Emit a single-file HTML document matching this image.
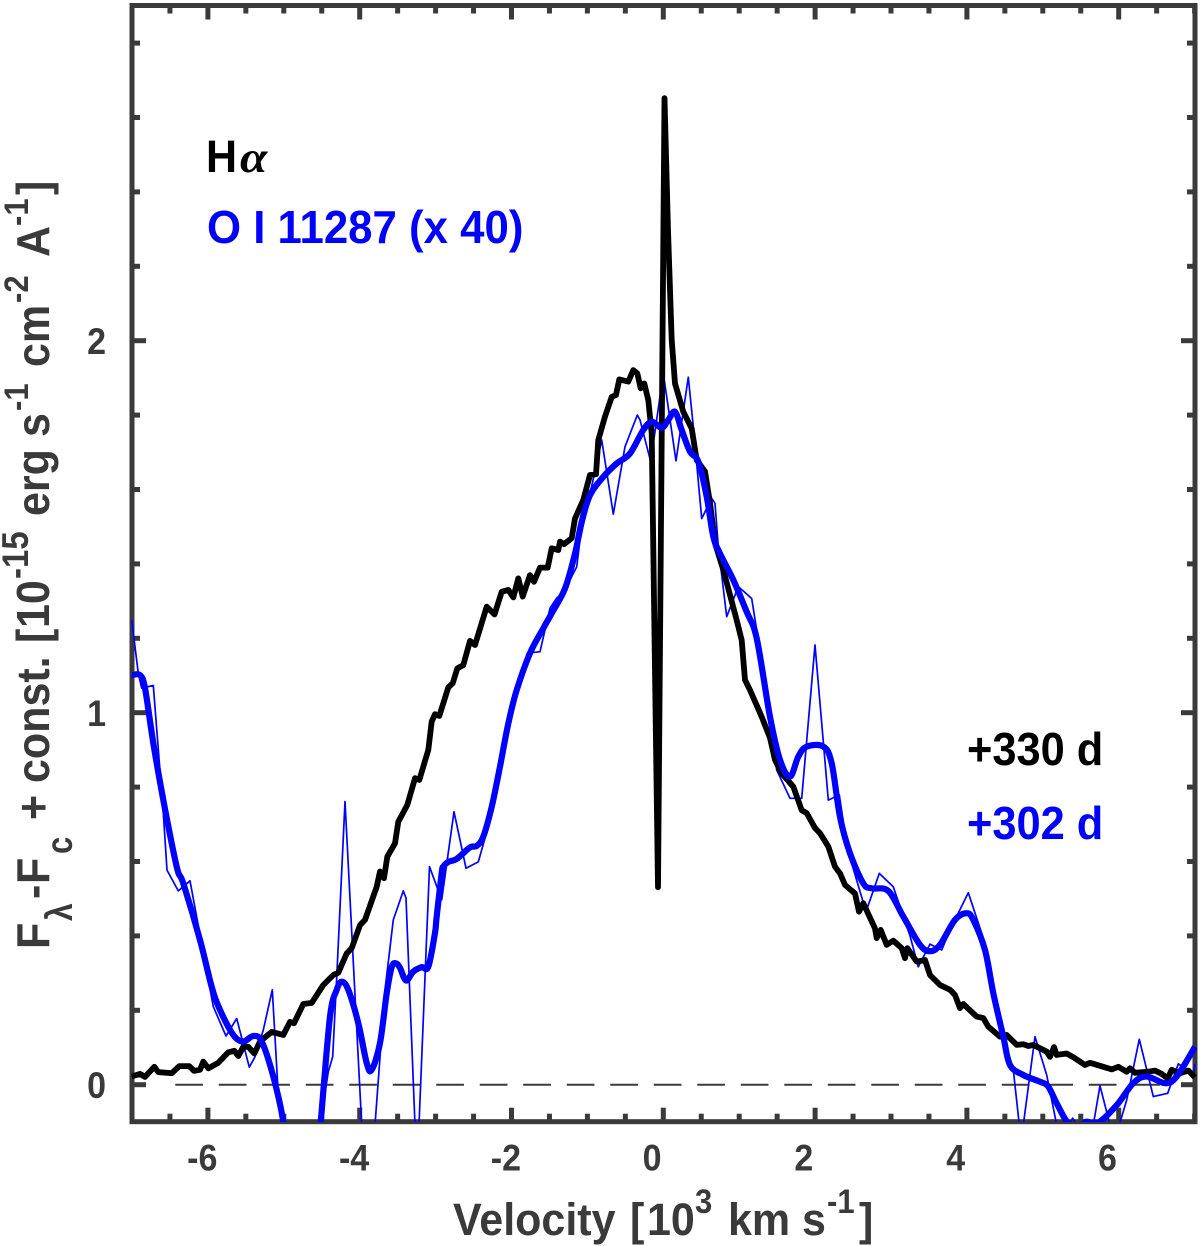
<!DOCTYPE html>
<html>
<head>
<meta charset="utf-8">
<title>Velocity profile chart</title>
<style>
html,body{margin:0;padding:0;background:#fff;}
svg{display:block;}
text{font-family:"Liberation Sans",sans-serif;font-weight:bold;}
</style>
</head>
<body>
<svg id="chart" width="1200" height="1246" viewBox="0 0 1200 1246" xmlns="http://www.w3.org/2000/svg">
<rect x="0" y="0" width="1200" height="1246" fill="#fff"/>
<defs><clipPath id="plot-clip"><rect x="129" y="5" width="1068" height="1117"/></clipPath></defs>
<g id="dash-layer"></g>
<g id="tick-layer"></g>
<rect x="132" y="5.5" width="1063" height="1116.2" fill="none" stroke="#3a3a3a" stroke-width="5"/>
<g id="series-layer" clip-path="url(#plot-clip)"></g>
<g id="label-layer" fill="#3a3a3a" font-size="34"></g>

<g fill="#3a3a3a" font-size="43">
  <text transform="translate(453,1235) scale(1,1.06)">Velocity</text>
  <text transform="translate(630,1235) scale(1,1.06)">[</text>
  <text transform="translate(647,1235) scale(1,1.06)">10</text>
  <text transform="translate(695,1213) scale(1,1.12)" font-size="31">3</text>
  <text transform="translate(728,1235) scale(1,1.06)">km</text>
  <text transform="translate(802,1235) scale(1,1.06)">s</text>
  <text transform="translate(827,1213) scale(1,1.12)" font-size="31">-1</text>
  <text transform="translate(859,1235) scale(1,1.06)">]</text>
</g>

<g fill="#3a3a3a" font-size="43">
  <text transform="translate(49,949) rotate(-90) scale(1,1.08)">F</text>
  <text transform="translate(72,921) rotate(-90) scale(1,1.15)" font-size="32">λ</text>
  <text transform="translate(49,899) rotate(-90) scale(1,1.08)">-</text>
  <text transform="translate(49,884) rotate(-90) scale(1,1.08)">F</text>
  <text transform="translate(72,854) rotate(-90) scale(1,1.2)" font-size="31">c</text>
  <text transform="translate(49,820) rotate(-90) scale(1,1.08)">+</text>
  <text transform="translate(49,783) rotate(-90) scale(1,1.08)">const.</text>
  <text transform="translate(49,643) rotate(-90) scale(1,1.08)">[</text>
  <text transform="translate(49,628) rotate(-90) scale(1,1.08)">10</text>
  <text transform="translate(28,579) rotate(-90) scale(1,1.12)" font-size="33">-15</text>
  <text transform="translate(49,516) rotate(-90) scale(1,1.08)">erg</text>
  <text transform="translate(49,437) rotate(-90) scale(1,1.08)">s</text>
  <text transform="translate(28,411) rotate(-90) scale(1,1.12)" font-size="31">-1</text>
  <text transform="translate(49,367) rotate(-90) scale(1,1.08)">cm</text>
  <text transform="translate(28,303) rotate(-90) scale(1,1.12)" font-size="31">-2</text>
  <text transform="translate(49,257) rotate(-90) scale(1,1.08)">A</text>
  <text transform="translate(28,226) rotate(-90) scale(1,1.12)" font-size="31">-1</text>
  <text transform="translate(49,195) rotate(-90) scale(1,1.08)">]</text>
</g>

<g fill="#000">
  <text transform="translate(206,172) scale(1,1.06)" font-size="43">H</text>
  <text transform="translate(240,172) scale(1.12,1)" font-size="44" style="font-family:'Liberation Serif',serif;font-style:italic">α</text>
</g>
<text transform="translate(207,243) scale(1,1.05)" font-size="43.8" fill="#0000ff">O I 11287 (x 40)</text>
<text transform="translate(967,765) scale(1,1.06)" font-size="43.4" fill="#000">+330 d</text>
<text transform="translate(967,839) scale(1,1.06)" font-size="43.4" fill="#0000ff">+302 d</text>
</svg>

<script>
const xTickValues = [-6, -4, -2, 0, 2, 4, 6];
const xTickLabels = ["-6", "-4", "-2", "0", "2", "4", "6"];
const yTickValues = [0, 1, 2];
const yTickLabels = ["0", "1", "2"];

const haVelocity = [-7.004,-6.895,-6.829,-6.706,-6.653,-6.477,-6.377,-6.245,-6.183,-6.104,-6.061,-5.995,-5.863,-5.731,-5.652,-5.600,-5.534,-5.468,-5.389,-5.314,-5.159,-5.007,-4.918,-4.866,-4.743,-4.632,-4.480,-4.348,-4.282,-4.171,-4.105,-3.996,-3.930,-3.776,-3.732,-3.680,-3.636,-3.535,-3.491,-3.373,-3.271,-3.215,-3.096,-3.051,-3.008,-2.951,-2.833,-2.775,-2.714,-2.635,-2.547,-2.481,-2.327,-2.224,-2.129,-2.042,-1.976,-1.910,-1.852,-1.756,-1.704,-1.625,-1.523,-1.470,-1.383,-1.361,-1.308,-1.207,-1.163,-1.054,-0.966,-0.887,-0.856,-0.768,-0.680,-0.623,-0.580,-0.461,-0.395,-0.343,-0.298,-0.250,-0.198,-0.153,-0.070,0.016,0.062,0.111,0.154,0.264,0.374,0.440,0.549,0.615,0.681,0.791,0.967,1.033,1.076,1.142,1.296,1.406,1.472,1.560,1.713,1.823,1.889,1.999,2.065,2.174,2.262,2.328,2.394,2.526,2.578,2.635,2.789,2.812,2.864,2.943,3.030,3.141,3.185,3.215,3.339,3.448,3.514,3.646,3.777,3.843,3.909,3.953,4.129,4.216,4.282,4.436,4.524,4.656,4.743,4.809,4.875,5.051,5.095,5.148,5.183,5.315,5.424,5.556,5.622,5.797,5.908,5.995,6.105,6.149,6.215,6.390,6.478,6.567,6.646,6.698,6.808,6.917,7.005];
const haFlux = [0.022,0.029,0.021,0.048,0.034,0.031,0.050,0.050,0.037,0.040,0.062,0.044,0.059,0.087,0.091,0.077,0.102,0.102,0.084,0.116,0.142,0.134,0.169,0.165,0.217,0.220,0.268,0.295,0.301,0.353,0.367,0.429,0.443,0.532,0.573,0.555,0.613,0.649,0.707,0.752,0.824,0.819,0.900,0.976,0.996,0.991,1.068,1.079,1.119,1.128,1.193,1.182,1.285,1.264,1.325,1.330,1.310,1.361,1.312,1.370,1.352,1.390,1.390,1.442,1.437,1.460,1.453,1.469,1.522,1.572,1.639,1.641,1.733,1.796,1.849,1.854,1.896,1.890,1.921,1.912,1.872,1.885,1.840,1.751,0.531,2.652,2.297,2.002,1.885,1.809,1.764,1.679,1.648,1.564,1.456,1.384,1.249,1.195,1.088,1.061,0.989,0.932,0.873,0.837,0.801,0.738,0.730,0.690,0.676,0.640,0.586,0.568,0.537,0.514,0.465,0.488,0.420,0.394,0.416,0.376,0.387,0.367,0.340,0.367,0.331,0.335,0.295,0.268,0.255,0.241,0.206,0.217,0.183,0.179,0.156,0.129,0.134,0.107,0.109,0.104,0.107,0.089,0.075,0.101,0.080,0.084,0.071,0.053,0.059,0.048,0.041,0.048,0.035,0.044,0.032,0.035,0.038,0.029,0.017,0.040,0.031,0.038,0.020];

const oiRawVelocity = [-7.004,-6.917,-6.872,-6.719,-6.587,-6.539,-6.390,-6.236,-5.929,-5.762,-5.621,-5.454,-5.380,-5.270,-5.152,-5.072,-5.007,-4.72,-4.55,-4.523,-4.414,-4.356,-4.303,-4.194,-3.974,-3.85,-3.798,-3.667,-3.557,-3.426,-3.390,-3.271,-3.245,-3.219,-3.080,-2.920,-2.758,-2.599,-2.437,-2.349,-1.931,-1.792,-1.625,-1.493,-1.405,-1.318,-1.141,-1.098,-0.812,-0.659,-0.505,-0.343,-0.307,-0.166,0,0.167,0.329,0.395,0.506,0.638,0.681,0.725,0.835,0.988,1.165,1.252,1.494,1.669,1.823,1.999,2.174,2.319,2.394,2.482,2.671,2.846,3.030,3.250,3.360,3.514,3.668,3.777,4.018,4.195,4.393,4.611,4.690,4.743,4.897,5.051,5.183,5.332,5.394,5.451,5.665,5.754,5.885,6.008,6.105,6.271,6.456,6.646,6.785,6.851,6.983,7.005];
const oiRawFlux = [1.249,1.106,1.066,1.073,0.730,0.577,0.521,0.548,0.210,0.131,0.178,0.047,0.075,0.147,0.255,-0.028,-0.108,-0.25,-0.2,-0.108,0.035,0.075,0.287,0.761,-0.108,-0.2,-0.108,0.255,0.443,0.521,0.502,-0.108,-0.15,-0.108,0.586,0.497,0.734,0.582,0.599,0.663,1.070,1.160,1.164,1.281,1.308,1.322,1.392,1.464,1.733,1.534,1.715,1.800,1.787,1.675,1.912,1.677,1.902,1.769,1.522,1.576,1.563,1.446,1.258,1.339,1.307,1.195,0.846,0.770,0.770,1.182,0.765,0.779,0.676,0.595,0.465,0.568,0.532,0.400,0.317,0.378,0.362,0.416,0.516,0.407,0.192,0.040,-0.108,-0.108,0.129,0.026,-0.108,-0.108,-0.090,-0.108,-0.108,-0.003,-0.108,-0.108,-0.041,0.122,-0.032,-0.023,0.056,0.048,0.026,0.056];

const oiSmoothVelocity = [-7.004,-6.895,-6.829,-6.719,-6.587,-6.411,-6.324,-6.104,-5.950,-5.841,-5.665,-5.534,-5.402,-5.291,-5.138,-5.007,-4.92,-4.65,-4.57,-4.512,-4.391,-4.303,-4.237,-4.150,-4.018,-3.908,-3.842,-3.732,-3.644,-3.578,-3.522,-3.469,-3.390,-3.294,-3.183,-3.096,-3.008,-2.986,-2.920,-2.899,-2.833,-2.722,-2.547,-2.459,-2.372,-2.261,-2.152,-2.042,-1.931,-1.756,-1.581,-1.470,-1.295,-1.163,-1.075,-0.966,-0.791,-0.614,-0.439,-0.264,-0.153,-0.021,0.066,0.154,0.242,0.352,0.461,0.572,0.659,0.747,0.922,1.099,1.231,1.406,1.538,1.669,1.779,1.889,2.108,2.219,2.328,2.460,2.635,2.746,2.964,3.162,3.382,3.514,3.646,3.843,3.997,4.084,4.238,4.348,4.480,4.568,4.743,4.963,5.072,5.183,5.315,5.45,5.56,5.731,5.974,6.192,6.369,6.610,6.764,7.005];
const oiSmoothFlux = [1.101,1.101,1.066,0.918,0.765,0.586,0.541,0.389,0.263,0.201,0.134,0.116,0.131,0.116,0.022,-0.099,-0.25,-0.4,-0.25,-0.099,0.183,0.255,0.277,0.255,0.165,0.058,0.040,0.112,0.246,0.317,0.326,0.314,0.280,0.304,0.316,0.317,0.408,0.452,0.569,0.586,0.599,0.607,0.638,0.642,0.667,0.747,0.855,0.971,1.061,1.160,1.227,1.267,1.334,1.428,1.513,1.585,1.634,1.670,1.697,1.760,1.782,1.766,1.787,1.809,1.760,1.702,1.675,1.581,1.473,1.428,1.357,1.271,1.200,0.989,0.873,0.828,0.882,0.909,0.909,0.864,0.720,0.622,0.541,0.528,0.521,0.452,0.376,0.359,0.376,0.443,0.461,0.443,0.362,0.246,0.129,0.053,0.026,0.008,-0.005,-0.050,-0.099,-0.125,-0.100,-0.102,-0.055,0.004,0.022,0.004,0.022,0.102];

// Axis functions: data value to pixel position
function xScale(v) { return 663.3 + 75.9 * v; }
function yScale(f) { return 1084.7 - 372 * f; }

const NS = "http://www.w3.org/2000/svg";
const seriesLayer = document.getElementById("series-layer");
const tickLayer = document.getElementById("tick-layer");
const labelLayer = document.getElementById("label-layer");
const dashLayer = document.getElementById("dash-layer");

function pointsFor(vs, fs) {
  return vs.map(function (v, i) {
    return xScale(v).toFixed(1) + "," + yScale(fs[i]).toFixed(1);
  }).join(" ");
}

// Smooth path through the points (Catmull-Rom to cubic Bezier)
function smoothPathFor(vs, fs) {
  const px = vs.map(xScale);
  const py = fs.map(yScale);
  let d = "M" + px[0].toFixed(1) + " " + py[0].toFixed(1);
  for (let i = 0; i < px.length - 1; i++) {
    const a = Math.max(i - 1, 0);
    const b = Math.min(i + 2, px.length - 1);
    const c1x = px[i] + (px[i + 1] - px[a]) / 6;
    const c1y = py[i] + (py[i + 1] - py[a]) / 6;
    const c2x = px[i + 1] - (px[b] - px[i]) / 6;
    const c2y = py[i + 1] - (py[b] - py[i]) / 6;
    d += " C" + c1x.toFixed(1) + " " + c1y.toFixed(1) + " " + c2x.toFixed(1) + " " + c2y.toFixed(1) + " " + px[i + 1].toFixed(1) + " " + py[i + 1].toFixed(1);
  }
  return d;
}

// zero-level dashed reference line
const zeroLine = document.createElementNS(NS, "line");


zeroLine.setAttribute("x1", xScale(-6.43));
zeroLine.setAttribute("x2", xScale(6.6));
zeroLine.setAttribute("y1", yScale(0));
zeroLine.setAttribute("y2", yScale(0));
zeroLine.setAttribute("stroke", "#3a3a3a");
zeroLine.setAttribute("stroke-width", "2");
zeroLine.setAttribute("stroke-dasharray", "27.7 15.8");
dashLayer.appendChild(zeroLine);

// thin raw O I spectrum
const rawLine = document.createElementNS(NS, "polyline");


rawLine.setAttribute("points", pointsFor(oiRawVelocity, oiRawFlux));
rawLine.setAttribute("fill", "none");
rawLine.setAttribute("stroke", "#0000ff");
rawLine.setAttribute("stroke-width", "1.7");
rawLine.setAttribute("stroke-linejoin", "round");
seriesLayer.appendChild(rawLine);

// H-alpha spectrum
const haLine = document.createElementNS(NS, "polyline");


haLine.setAttribute("points", pointsFor(haVelocity, haFlux));
haLine.setAttribute("fill", "none");
haLine.setAttribute("stroke", "#000");
haLine.setAttribute("stroke-width", "5.8");
haLine.setAttribute("stroke-linejoin", "round");
seriesLayer.appendChild(haLine);

// smoothed O I spectrum
const smoothLine = document.createElementNS(NS, "path");


smoothLine.setAttribute("d", smoothPathFor(oiSmoothVelocity, oiSmoothFlux));
smoothLine.setAttribute("fill", "none");
smoothLine.setAttribute("stroke", "#0000ff");
smoothLine.setAttribute("stroke-width", "6.2");
smoothLine.setAttribute("stroke-linejoin", "round");
seriesLayer.appendChild(smoothLine);

function addTick(x1, y1, x2, y2, name) {
  const t = document.createElementNS(NS, "line");
  
  
  t.setAttribute("x1", x1);
  t.setAttribute("y1", y1);
  t.setAttribute("x2", x2);
  t.setAttribute("y2", y2);
  t.setAttribute("stroke", "#3a3a3a");
  t.setAttribute("stroke-width", "5");
  tickLayer.appendChild(t);
}

// x ticks every 0.5, major every 2
for (let k = -13; k <= 14; k++) {
  const v = k * 0.5;
  const major = k % 4 === 0;
  const len = major ? 14 : 8;
  addTick(xScale(v), 1121.7, xScale(v), 1121.7 - len, "x-tick-bottom");
  addTick(xScale(v), 5.5, xScale(v), 5.5 + len, "x-tick-top");
}
// y ticks every 0.2, major every 1
for (let k = 0; k <= 14; k++) {
  const f = k * 0.2;
  const major = k % 5 === 0;
  const len = major ? 14 : 8;
  addTick(132, yScale(f), 132 + len, yScale(f), "y-tick-left");
  addTick(1195, yScale(f), 1195 - len, yScale(f), "y-tick-right");
}

xTickValues.forEach(function (v, i) {
  const t = document.createElementNS(NS, "text");
  
  
  t.setAttribute("transform", "translate(" + (xScale(v) + (v < 0 ? 9.5 : -1.8)) + ",1170.7) scale(1,1.1)");
  t.setAttribute("text-anchor", "end");
  t.textContent = xTickLabels[i];
  labelLayer.appendChild(t);
});

yTickValues.forEach(function (f, i) {
  const t = document.createElementNS(NS, "text");
  
  
  t.setAttribute("transform", "translate(106," + (yScale(f) + 13.5) + ") scale(1,1.1)");
  t.setAttribute("text-anchor", "end");
  t.textContent = yTickLabels[i];
  labelLayer.appendChild(t);
});
</script>
</body>
</html>
